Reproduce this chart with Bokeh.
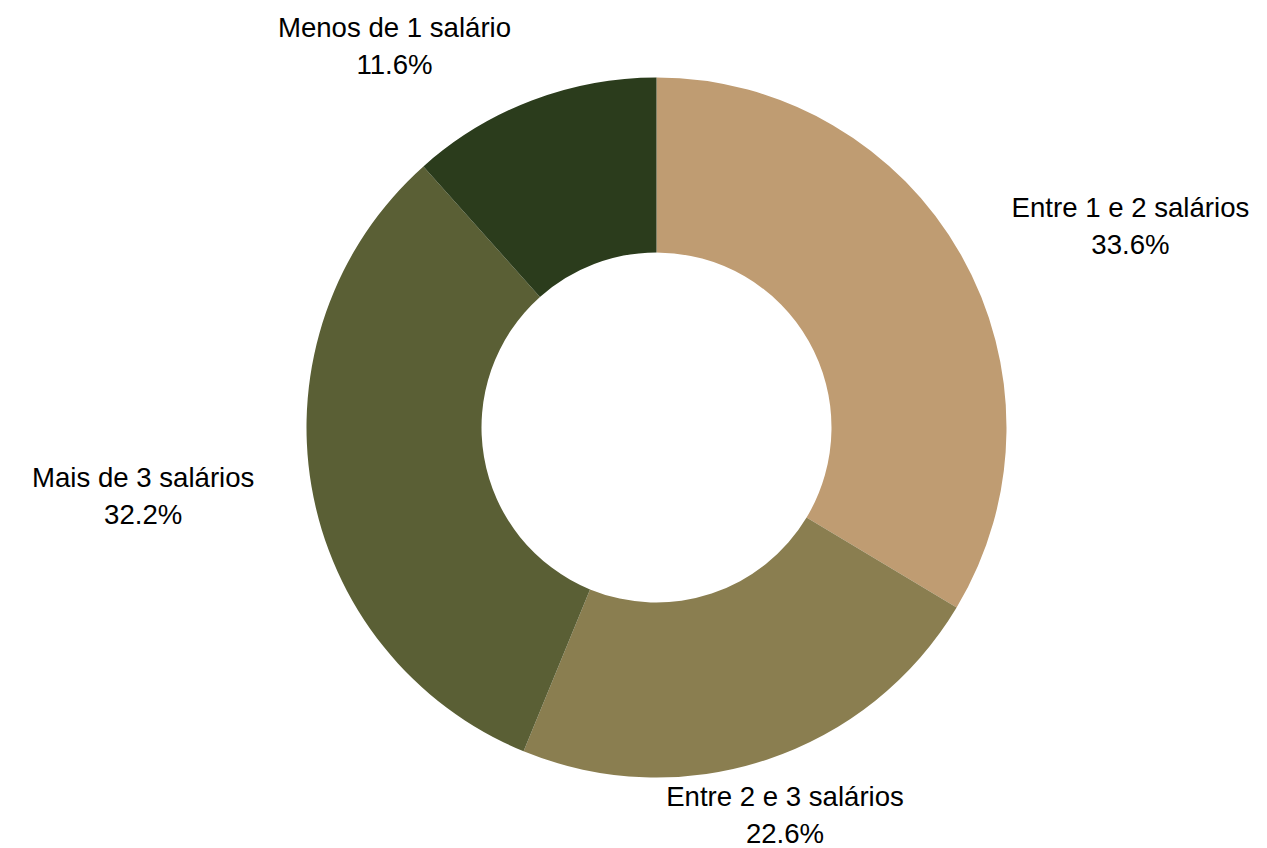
import math
from bokeh.plotting import figure
from bokeh.models import ColumnDataSource, Range1d
from bokeh.core.properties import value
from bokeh.embed import file_html
from bokeh.resources import INLINE

categories = ["Entre 1 e 2 salários", "Entre 2 e 3 salários", "Mais de 3 salários", "Menos de 1 salário"]
values = [33.6, 22.6, 32.2, 11.6]
pct_labels = ["33.6%", "22.6%", "32.2%", "11.6%"]
colors = ["#BF9C72", "#8A7E50", "#5A5F35", "#2B3C1C"]

W, H = 1267, 848
CX, CY = 656, 427  # centre in figure pixels from top-left
R_OUT, R_IN, R_LAB = 350, 175, 408
FONT_PX = 27.6
LINE_GAP = 37

# Arial / Liberation Sans advance widths (em) for label-width estimation
CHAR_W = {' ': 0.278, 'E': 0.667, 'M': 0.833, 'n': 0.556, 't': 0.278, 'r': 0.333,
          'e': 0.556, 's': 0.5, 'a': 0.556, 'l': 0.222, 'á': 0.556, 'i': 0.222,
          'o': 0.556, 'd': 0.556, '.': 0.278, '%': 0.889}


def text_width(s):
    return FONT_PX * sum(CHAR_W.get(ch, 0.556) for ch in s)


p = figure(width=W, height=H, output_backend="svg", toolbar_location=None,
           x_range=Range1d(-CX, W - CX), y_range=Range1d(-(H - CY), CY),
           x_axis_type=None, y_axis_type=None, min_border=0)
p.grid.visible = False
p.outline_line_color = None
p.background_fill_color = "white"
p.border_fill_color = "white"

total = sum(values)
starts, ends, lx, ly = [], [], [], []
cum = 0.0
for v, cat, pct in zip(values, categories, pct_labels):
    a0 = math.pi / 2 - 2 * math.pi * cum / total
    cum += v
    a1 = math.pi / 2 - 2 * math.pi * cum / total
    starts.append(a0)
    ends.append(a1)
    mid = (a0 + a1) / 2
    x = R_LAB * math.cos(mid)
    y = R_LAB * math.sin(mid)
    c = math.cos(mid)
    half = max(text_width(cat), text_width(pct)) / 2
    if abs(c) >= 0.33:
        x += half if c > 0 else -half
    lx.append(x)
    ly.append(y)

src = ColumnDataSource(dict(start=starts, end=ends, color=colors, cat=categories,
                            pct=pct_labels, lx=lx,
                            ly1=[y + LINE_GAP / 2 for y in ly],
                            ly2=[y - LINE_GAP / 2 for y in ly]))

p.annular_wedge(x=0, y=0, inner_radius=R_IN, outer_radius=R_OUT,
                start_angle="start", end_angle="end", direction="clock",
                fill_color="color", line_color=None, source=src)

for col, ycol in (("cat", "ly1"), ("pct", "ly2")):
    p.text(x="lx", y=ycol, text=col, source=src, text_align="center",
           text_baseline="middle", text_font=value("Liberation Sans"),
           text_font_size=value(f"{FONT_PX}px"), text_color="#000000")

open("out.html", "w").write(file_html(p, INLINE))
